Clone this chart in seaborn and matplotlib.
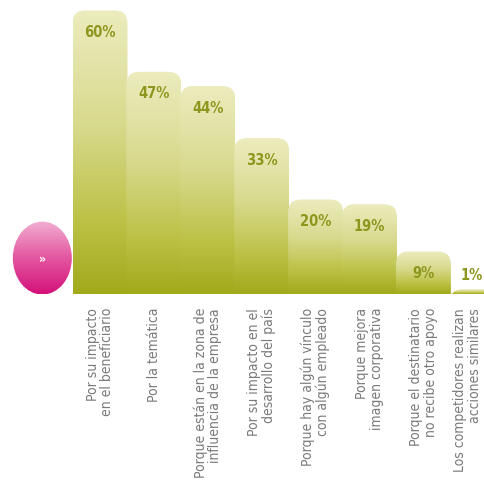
import numpy as np
import pandas as pd
import matplotlib
matplotlib.use("Agg")
import matplotlib.pyplot as plt
import matplotlib.transforms as mtransforms
from matplotlib.patches import FancyBboxPatch, Ellipse
from matplotlib.colors import LinearSegmentedColormap
import seaborn as sns

categories = [
    "Por su impacto\nen el beneficiario",
    "Por la temática",
    "Porque están en la zona de\ninfluencia de la empresa",
    "Por su impacto en el\ndesarrollo del país",
    "Porque hay algún vínculo\ncon algún empleado",
    "Porque mejora\nimagen corporativa",
    "Porque el destinatario\nno recibe otro apoyo",
    "Los competidores realizan\nacciones similares",
]
values = [60, 47, 44, 33, 20, 19, 9, 1]
value_labels = ["60%", "47%", "44%", "33%", "20%", "19%", "9%", "1%"]

sns.set_theme(style="white")
plt.rcParams["font.family"] = ["DejaVu Sans"]
plt.rcParams["font.stretch"] = "condensed"

df = pd.DataFrame({"cat": categories, "val": values})

fig = plt.figure(figsize=(4.84, 4.86), dpi=100)
ax = fig.add_axes([0, (486 - 294) / 486, 1, 294 / 486])
sns.barplot(data=df, x="cat", y="val", ax=ax, width=1.0, color="#c8cc60")

xlim = (-1.855, 7.124)
ylim = (0, 62.2)

bar_cmap = LinearSegmentedColormap.from_list(
    "bar", [(0.0, "#a2a91a"), (0.25, "#bcc145"), (0.6, "#d8da8e"), (1.0, "#ececbe")]
)
grad = np.linspace(0, 1, 256).reshape(-1, 1)

px_x = 484 / (xlim[1] - xlim[0])
px_y = 294 / (ylim[1] - ylim[0])
r_px = 13
rs = r_px / px_x
aspect = (r_px / px_y) / rs
ov = 0.01

for p in list(ax.patches):
    x0 = p.get_x() - ov
    w = p.get_width() + 2 * ov
    h = p.get_height()
    p.set_visible(False)
    box = FancyBboxPatch((x0, -8), w, h + 8,
                         boxstyle=f"round,pad=0,rounding_size={rs}",
                         mutation_aspect=aspect, facecolor="none",
                         edgecolor="none", transform=ax.transData)
    ax.add_patch(box)
    im = ax.imshow(grad, extent=[x0, x0 + w, 0, h], origin="lower",
                   cmap=bar_cmap, aspect="auto", zorder=2)
    im.set_clip_path(box)

n = len(values)
for i, (v, lab) in enumerate(zip(values, value_labels)):
    y = max(v - 22 / px_y, 19 / px_y)
    t = ax.text(i, y, lab, ha="center", va="center", fontsize=10.5,
                fontweight="bold", color="#8d971e", zorder=5)
    if i == n - 1:
        t.set_transform(ax.transData + mtransforms.ScaledTranslation(-6 / 100, 0, fig.dpi_scale_trans))

# pink marker
pink_cmap = LinearSegmentedColormap.from_list("pink", ["#d4127a", "#e45aa2", "#f3b6d6"])
ell = Ellipse((-1.07, 7.6), 59 / px_x, 73 / px_y, facecolor="none", edgecolor="none")
ax.add_patch(ell)
pim = ax.imshow(grad, extent=[-1.7, -0.45, 0, 16], origin="lower",
                cmap=pink_cmap, aspect="auto", zorder=2)
pim.set_clip_path(ell)
ax.text(-1.07, 7.3, "»", ha="center", va="center", color="white",
        fontsize=9, fontweight="bold", zorder=5)

ax.set_xlim(*xlim)
ax.set_ylim(*ylim)
ax.set_xlabel("")
ax.set_ylabel("")
ax.set_yticks([])
ax.set_xticks(range(n))
ax.set_xticklabels(categories, rotation=90, ha="center", va="top",
                   multialignment="right", fontsize=10, color="#7a7a7a",
                   linespacing=1.05)
ax.tick_params(axis="x", length=0, pad=10)
last = ax.get_xticklabels()[-1]
last.set_transform(last.get_transform() + mtransforms.ScaledTranslation(-10 / 100, 0, fig.dpi_scale_trans))
for s in ax.spines.values():
    s.set_visible(False)
ax.patch.set_alpha(0)

fig.savefig("out.png", dpi=100, facecolor="white")
